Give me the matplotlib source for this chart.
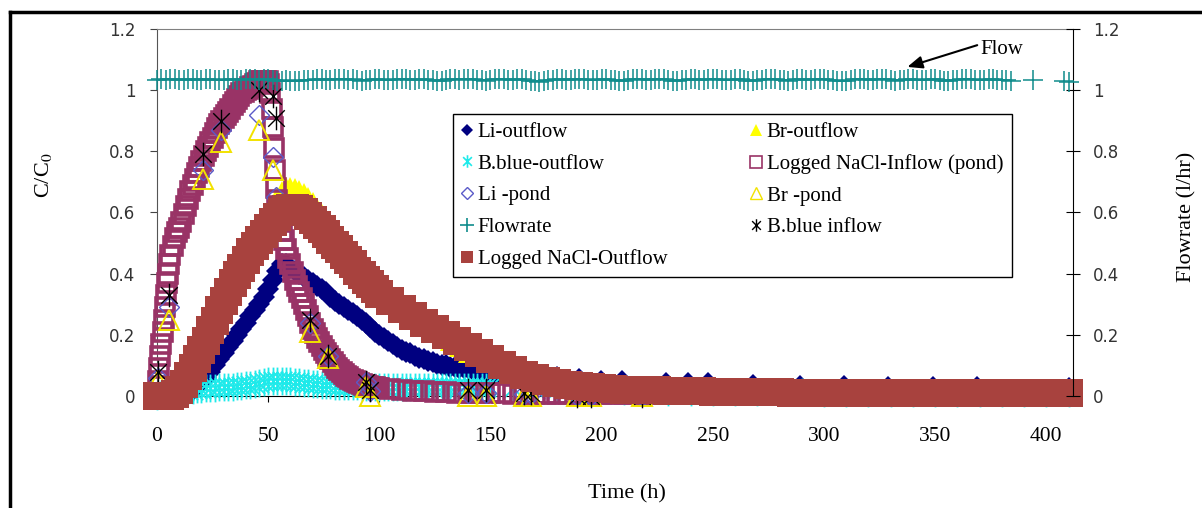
import numpy as np
import matplotlib.pyplot as plt
from matplotlib.lines import Line2D
from matplotlib.path import Path

# ---- data ----
# flowrate, right axis (l/hr)
t_flow = np.concatenate([np.arange(0, 385, 2), [394, 408, 410]])
flow = [1.034, 1.036, 1.033, 1.035, 1.037, 1.034, 1.032, 1.035, 1.036, 1.034, 1.033, 1.035,
        1.036, 1.034, 1.032, 1.034, 1.036, 1.035, 1.033, 1.034, 1.036, 1.037, 1.035, 1.034,
        1.036, 1.035, 1.033, 1.031, 1.030, 1.032, 1.030, 1.029, 1.031, 1.033, 1.032, 1.034,
        1.035, 1.036, 1.034, 1.033, 1.035, 1.037, 1.036, 1.034, 1.035, 1.033, 1.031, 1.032,
        1.034, 1.036, 1.035, 1.033, 1.032, 1.034, 1.036, 1.037, 1.035, 1.034, 1.033, 1.035,
        1.036, 1.034, 1.032, 1.030, 1.031, 1.033, 1.035, 1.036, 1.034, 1.035, 1.037, 1.036,
        1.034, 1.032, 1.031, 1.033, 1.035, 1.036, 1.035, 1.033, 1.034, 1.036, 1.035, 1.033,
        1.031, 1.029, 1.028, 1.030, 1.032, 1.034, 1.035, 1.036, 1.034, 1.033, 1.035, 1.037,
        1.036, 1.034, 1.032, 1.033, 1.035, 1.036, 1.034, 1.032, 1.030, 1.031, 1.033, 1.035,
        1.036, 1.035, 1.033, 1.034, 1.036, 1.037, 1.035, 1.033, 1.031, 1.030, 1.032, 1.034,
        1.035, 1.036, 1.034, 1.033, 1.035, 1.036, 1.035, 1.033, 1.032, 1.034, 1.036, 1.035,
        1.033, 1.031, 1.030, 1.032, 1.034, 1.036, 1.037, 1.035, 1.034, 1.032, 1.031, 1.033,
        1.035, 1.036, 1.034, 1.033, 1.035, 1.037, 1.036, 1.034, 1.032, 1.030, 1.029, 1.031,
        1.033, 1.035, 1.036, 1.035, 1.033, 1.034, 1.036, 1.037, 1.035, 1.033, 1.031, 1.032,
        1.034, 1.036, 1.035, 1.033, 1.032, 1.034, 1.036, 1.035, 1.033, 1.031, 1.030, 1.032,
        1.034, 1.035, 1.037, 1.036, 1.034, 1.032, 1.033, 1.035, 1.036, 1.034, 1.033, 1.032,
        1.031,
        1.032, 1.030, 1.026]

# Logged NaCl inflow (pond)
t_nacl_in = np.concatenate([np.arange(0, 6.5, 0.5), np.arange(7, 51), np.arange(50.5, 55.5, 0.5),
                            np.arange(56, 101), np.arange(105, 411, 5)])
nacl_in = [0.0, 0.05, 0.09, 0.13, 0.17, 0.21, 0.25, 0.29, 0.33, 0.37, 0.40, 0.43, 0.46,
           0.49, 0.515, 0.535, 0.55, 0.57, 0.595, 0.62, 0.645, 0.67, 0.69,
           0.71, 0.73, 0.75, 0.77, 0.785, 0.80, 0.815, 0.83, 0.845, 0.86,
           0.875, 0.89, 0.90, 0.91, 0.92, 0.93, 0.94, 0.95, 0.96, 0.97,
           0.98, 0.99, 0.995, 1.0, 1.005, 1.01, 1.015, 1.02, 1.025, 1.03,
           1.03, 1.03, 1.03, 1.03,
           1.02, 0.99, 0.94, 0.88, 0.81, 0.74, 0.68, 0.64, 0.61, 0.58,
           0.54, 0.51, 0.48, 0.45, 0.43, 0.405, 0.38, 0.36, 0.34, 0.32,
           0.30, 0.28, 0.26, 0.24, 0.22, 0.205, 0.19, 0.177, 0.165, 0.152,
           0.14, 0.13, 0.12, 0.11, 0.10, 0.092, 0.085, 0.078, 0.072, 0.067,
           0.062, 0.057, 0.053, 0.05, 0.046, 0.043, 0.04, 0.037, 0.035, 0.033,
           0.031, 0.029, 0.028, 0.026, 0.025,
           0.022, 0.019, 0.017, 0.015, 0.013, 0.012, 0.011, 0.01, 0.01, 0.009,
           0.009, 0.008, 0.008, 0.008, 0.007, 0.007, 0.007, 0.007, 0.006, 0.006,
           0.006, 0.006, 0.006, 0.006, 0.006, 0.006, 0.006, 0.006, 0.006, 0.006,
           0.005, 0.005, 0.005, 0.005, 0.005, 0.005, 0.005, 0.005, 0.005, 0.005,
           0.005, 0.005, 0.005, 0.005, 0.005, 0.005, 0.005, 0.005, 0.005, 0.005,
           0.005, 0.005, 0.005, 0.005, 0.005, 0.005, 0.005, 0.005, 0.005, 0.005,
           0.005, 0.005]

# Logged NaCl outflow
t_nacl_out = np.concatenate([np.arange(0, 100, 2), np.arange(100, 411, 5)])
nacl_out = [0.0, 0.0, 0.0, 0.0, 0.005, 0.02, 0.04, 0.065, 0.09, 0.12,
            0.15, 0.18, 0.215, 0.245, 0.28, 0.31, 0.34, 0.37, 0.395, 0.42,
            0.445, 0.47, 0.49, 0.51, 0.53, 0.55, 0.57, 0.585, 0.60, 0.61,
            0.615, 0.615, 0.61, 0.60, 0.59, 0.575, 0.56, 0.545, 0.53, 0.51,
            0.495, 0.48, 0.46, 0.445, 0.43, 0.41, 0.395, 0.38, 0.365, 0.35,
            0.335, 0.31, 0.285, 0.26, 0.24, 0.22, 0.20, 0.18, 0.16, 0.14,
            0.12, 0.10, 0.085, 0.07, 0.06, 0.05, 0.043, 0.037, 0.032, 0.028,
            0.025, 0.023, 0.021, 0.02, 0.019, 0.018, 0.017, 0.016, 0.015, 0.015,
            0.014, 0.014, 0.013, 0.013, 0.012, 0.012, 0.012, 0.011, 0.011, 0.011,
            0.01, 0.01, 0.01, 0.01, 0.01, 0.01, 0.01, 0.01, 0.01, 0.01,
            0.01, 0.01, 0.01, 0.01, 0.01, 0.01, 0.01, 0.01, 0.01, 0.01,
            0.01, 0.01, 0.01]

# Li outflow
t_li_out = np.concatenate([np.arange(10, 171, 2),
                           [180, 190, 199.5, 209, 229, 239, 248, 268, 289, 309, 329, 349, 369, 410]])
li_out = [0.0, 0.005, 0.01, 0.02, 0.03, 0.045, 0.06, 0.08, 0.10, 0.12,
          0.14, 0.16, 0.18, 0.20, 0.22, 0.24, 0.26, 0.28, 0.30, 0.325,
          0.35, 0.38, 0.41, 0.43, 0.43, 0.42, 0.41, 0.40, 0.39, 0.38,
          0.37, 0.36, 0.35, 0.34, 0.325, 0.31, 0.30, 0.29, 0.28, 0.27,
          0.26, 0.25, 0.24, 0.225, 0.21, 0.20, 0.19, 0.18, 0.17, 0.16,
          0.15, 0.145, 0.14, 0.13, 0.125, 0.12, 0.115, 0.11, 0.105, 0.10,
          0.10, 0.095, 0.095, 0.09, 0.09, 0.09, 0.085, 0.085, 0.08, 0.08,
          0.08, 0.078, 0.076, 0.075, 0.074, 0.073, 0.072, 0.071, 0.07, 0.07,
          0.07,
          0.062, 0.056, 0.05, 0.048, 0.044, 0.044, 0.042, 0.037, 0.033, 0.033, 0.031, 0.031, 0.031, 0.025]

# Br outflow
t_br_out = np.arange(0, 141, 2)
br_out = [0.0, 0.0, 0.0, 0.0, 0.0, 0.015, 0.035, 0.06, 0.085, 0.115,
          0.145, 0.175, 0.21, 0.24, 0.275, 0.305, 0.335, 0.365, 0.39, 0.42,
          0.445, 0.47, 0.50, 0.53, 0.56, 0.59, 0.62, 0.65, 0.67, 0.685,
          0.685, 0.68, 0.675, 0.665, 0.65, 0.635, 0.615, 0.595, 0.575, 0.555,
          0.54, 0.52, 0.50, 0.485, 0.47, 0.45, 0.435, 0.42, 0.40, 0.385,
          0.37, 0.355, 0.34, 0.325, 0.31, 0.30, 0.285, 0.275, 0.26, 0.25,
          0.24, 0.23, 0.22, 0.21, 0.20, 0.19, 0.18, 0.17, 0.16, 0.15,
          0.14]

# B.blue outflow
t_bb_out = np.concatenate([np.arange(0, 151, 2), np.arange(160, 411, 10)])
bb_out = [0.0, 0.005, 0.008, 0.01, 0.012, 0.014, 0.016, 0.018, 0.02, 0.022,
          0.024, 0.025, 0.026, 0.027, 0.028, 0.029, 0.03, 0.031, 0.032, 0.033,
          0.035, 0.037, 0.04, 0.043, 0.046, 0.048, 0.05, 0.05, 0.05, 0.049,
          0.048, 0.047, 0.045, 0.043, 0.041, 0.04, 0.038, 0.037, 0.036, 0.035,
          0.034, 0.034, 0.033, 0.033, 0.032, 0.032, 0.031, 0.031, 0.031, 0.03,
          0.03, 0.03, 0.03, 0.03, 0.029, 0.029, 0.029, 0.029, 0.029, 0.029,
          0.028, 0.028, 0.028, 0.028, 0.028, 0.028, 0.028, 0.028, 0.028, 0.028,
          0.028, 0.028, 0.028, 0.028, 0.028, 0.028,
          0.026, 0.024, 0.022, 0.02, 0.018, 0.016, 0.015, 0.014, 0.013, 0.013,
          0.012, 0.012, 0.012, 0.012, 0.011, 0.011, 0.011, 0.011, 0.011, 0.011,
          0.01, 0.01, 0.01, 0.01, 0.01, 0.01]

# pond samples
t_pond = [0.5, 5.5, 20.5, 29, 46, 52, 53.5, 69, 77, 94, 96, 140, 148, 165, 168, 189, 195, 218]
li_pond = [0.06, 0.29, 0.74, 0.87, 0.92, 0.78, 0.65, 0.24, 0.13, 0.045, 0.015, 0.01, 0.01, 0.005, 0.005, 0.0, 0.0, 0.0]
br_pond = [0.05, 0.25, 0.71, 0.83, 0.87, 0.74, 0.62, 0.21, 0.125, 0.03, 0.0, 0.0, 0.0, 0.0, 0.0, 0.0, 0.0, 0.0]
bb_in = [0.08, 0.33, 0.79, 0.90, 1.0, 0.98, 0.91, 0.25, 0.13, 0.045, 0.02, 0.02, 0.02, 0.01, 0.01, 0.0, 0.0, 0.0]

xticks = [0, 50, 100, 150, 200, 250, 300, 350, 400]
yticks = [0, 0.2, 0.4, 0.6, 0.8, 1.0, 1.2]
ytick_labels = ['0', '0.2', '0.4', '0.6', '0.8', '1', '1.2']

SERIF = 'Liberation Serif'
NAVY, YELLOW, CYAN = '#000080', '#FFFF00', '#1EEAEA'
PLUM, BROWN, TEAL = '#993366', '#A8423E', '#108C8C'
SLATE, GOLD = '#5A5AC8', '#F2E200'

# excel style "star" marker: vertical bar plus an x
star = Path([(0, -1), (0, 1), (-0.7, -0.7), (0.7, 0.7), (-0.7, 0.7), (0.7, -0.7)],
            [Path.MOVETO, Path.LINETO, Path.MOVETO, Path.LINETO, Path.MOVETO, Path.LINETO])

W, H = 1202, 508
fig = plt.figure(figsize=(W / 100, H / 100), dpi=100)
ax = fig.add_axes([157 / W, 1 - 396 / H, (1073 - 157) / W, (396 - 29) / H])
ax2 = ax.twinx()

kw = dict(ls='none', clip_on=False)
ax.plot(t_li_out, li_out, marker='D', ms=11.5, color=NAVY, mew=0, zorder=3, **kw)
ax.plot(t_br_out, br_out, marker='^', ms=14, color=YELLOW, mew=0, zorder=3.1, **kw)
ax.plot(t_bb_out, bb_out, marker=star, ms=20, color=CYAN, mfc='none', mew=1.3, zorder=3.2, **kw)
ax.plot(t_nacl_in, nacl_in, marker='s', ms=12.5, mfc='none', mec=PLUM, mew=2.6, zorder=3.3, **kw)
ax.plot(t_pond, li_pond, marker='D', ms=10, mfc='none', mec=SLATE, mew=1.0, zorder=3.4, **kw)
ax.plot(t_pond, br_pond, marker='^', ms=15, mfc='none', mec=GOLD, mew=1.4, zorder=3.5, **kw)
ax.plot(t_pond, bb_in, marker=star, ms=17, mfc='none', mec='black', mew=1.0, zorder=3.6, **kw)
# brown band: square markers plus a same-colour line to fill the steps
ax.plot(t_nacl_out, nacl_out, '-', lw=17, color=BROWN, solid_capstyle='butt', zorder=3.7, clip_on=False)
ax.plot(t_nacl_out, nacl_out, marker='s', ms=20, color=BROWN, mew=0, zorder=3.7, **kw)

ax2.plot(t_flow, flow, marker='+', ms=14, mew=1.1, color=TEAL, zorder=3, **kw)

for a in (ax, ax2):
    a.set_xlim(0, 412)
    a.set_ylim(0, 1.2)
    a.set_yticks(yticks)
    a.set_yticklabels(ytick_labels, fontfamily='DejaVu Sans', fontsize=12, color='#333333')
ax.set_xticks(xticks)
ax.set_xticklabels([str(x) for x in xticks], fontfamily=SERIF, fontsize=15.5)
ax.tick_params(axis='x', direction='out', length=4, pad=18)
ax.tick_params(axis='y', direction='out', length=5, pad=10.5, color='#444444')
ax2.tick_params(axis='y', direction='inout', length=10, pad=9.5, color='black')

ax.spines['top'].set_color('#808080')
ax.spines['left'].set_color('#555555')
ax.spines['right'].set_visible(False)
for s in ('top', 'left', 'bottom'):
    ax2.spines[s].set_visible(False)
ax2.spines['right'].set_color('black')

fig.text(43 / W, 1 - 175 / H, 'C/C$_0$', rotation=90, ha='center', va='center',
         fontsize=16, family=SERIF, math_fontfamily='stix')
fig.text(1187 / W, 1 - 217 / H, 'Flowrate (l/hr)', rotation=90, ha='center', va='center',
         fontsize=16, family=SERIF)
fig.text(627 / W, 1 - 494 / H, 'Time (h)', ha='center', va='center', fontsize=16, family=SERIF)

ax2.annotate('Flow', xy=(337.5, 1.076), xytext=(980 / W, 1 - 50 / H), textcoords='figure fraction',
             ha='left', va='center', fontsize=15, family=SERIF,
             arrowprops=dict(arrowstyle='-|>,head_length=0.6,head_width=0.25', color='black',
                             lw=1.5, shrinkA=0, shrinkB=0, relpos=(0, 0.8)))

handles = [
    Line2D([], [], ls='none', marker='D', ms=6, color=NAVY, mew=0),
    Line2D([], [], ls='none', marker=star, ms=9, mfc='none', mec=CYAN, mew=1.2),
    Line2D([], [], ls='none', marker='D', ms=6, mfc='none', mec=SLATE, mew=1.0),
    Line2D([], [], ls='none', marker='+', ms=10, mew=1.2, color=TEAL),
    Line2D([], [], ls='none', marker='s', ms=9, color=BROWN, mew=0),
    Line2D([], [], ls='none', marker='^', ms=9, color=YELLOW, mew=0),
    Line2D([], [], ls='none', marker='s', ms=8, mfc='none', mec=PLUM, mew=1.2),
    Line2D([], [], ls='none', marker='^', ms=9, mfc='none', mec=GOLD, mew=1.0),
    Line2D([], [], ls='none', marker=star, ms=9, mfc='none', mec='black', mew=1.0),
]
labels = ['Li-outflow', 'B.blue-outflow', 'Li -pond', 'Flowrate', 'Logged NaCl-Outflow',
          'Br-outflow', 'Logged NaCl-Inflow (pond)', 'Br -pond', 'B.blue inflow']
leg = ax2.legend(handles, labels, loc='upper left', bbox_to_anchor=(0.323, 0.335, 0.61, 0.433),
                 mode='expand', ncol=2, prop={'family': SERIF, 'size': 15}, frameon=True,
                 fancybox=False, edgecolor='black', framealpha=1, borderaxespad=0,
                 handlelength=0.6, handletextpad=0.2, labelspacing=0.58, borderpad=0.4)
leg.get_frame().set_linewidth(1.0)

# outer frame of the original picture
fig.add_artist(Line2D([9.5 / W, 9.5 / W], [0, 1 - 11.5 / H], transform=fig.transFigure, color='black', lw=2.5))
fig.add_artist(Line2D([9.5 / W, 1], [1 - 11.5 / H, 1 - 11.5 / H], transform=fig.transFigure, color='black', lw=2.5))

fig.savefig('out.png', dpi=100)
